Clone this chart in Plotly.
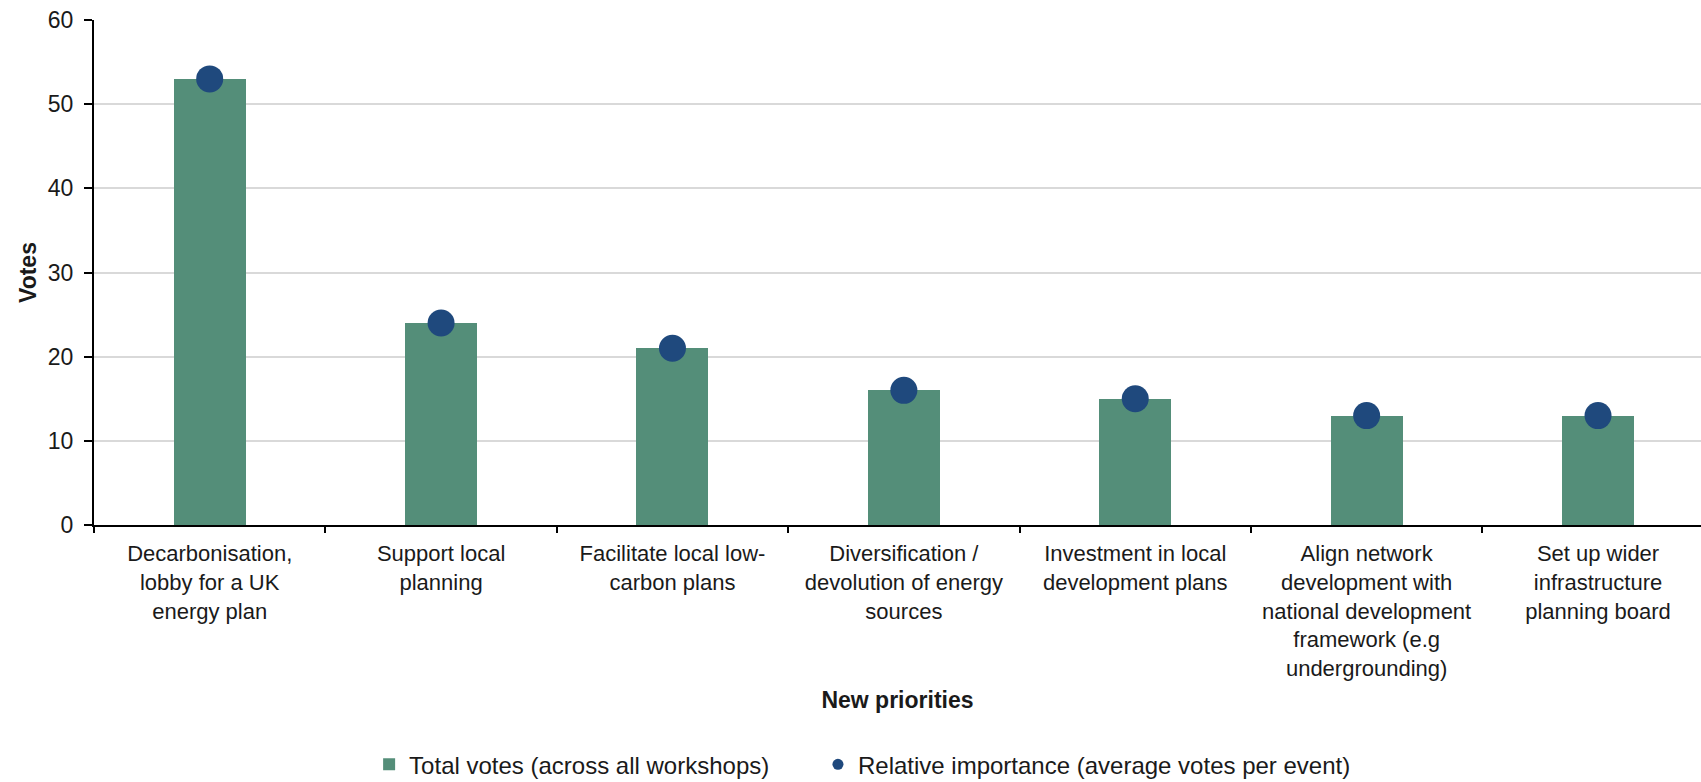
import plotly.graph_objects as go

categories = [
    "Decarbonisation,<br>lobby for a UK<br>energy plan",
    "Support local<br>planning",
    "Facilitate local low-<br>carbon plans",
    "Diversification /<br>devolution of energy<br>sources",
    "Investment in local<br>development plans",
    "Align network<br>development with<br>national development<br>framework (e.g<br>undergrounding)",
    "Set up wider<br>infrastructure<br>planning board",
]
total_votes = [53, 24, 21, 16, 15, 13, 13]
relative_importance = [53, 24, 21, 16, 15, 13, 13]
y_ticks = [0, 10, 20, 30, 40, 50, 60]

BAR = "#548e79"
DOT = "#1f497d"
FONT = "Liberation Sans, Arial, sans-serif"
TXT = "#1a1a1a"

fig = go.Figure()
fig.add_trace(go.Bar(
    x=categories, y=total_votes, name="Total votes (across all workshops)",
    marker=dict(color=BAR, line=dict(width=0)), width=0.311, legend="legend",
))
fig.add_trace(go.Scatter(
    x=categories, y=relative_importance, mode="markers", showlegend=False,
    marker=dict(color=DOT, size=27, line=dict(width=0)),
    name="Relative importance (average votes per event)",
))
fig.add_trace(go.Scatter(
    x=[None], y=[None], mode="markers",
    name="Relative importance (average votes per event)",
    marker=dict(color=DOT, size=11), legend="legend2",
))

legend_common = dict(
    orientation="h", xanchor="left", yanchor="middle", y=-0.4748,
    font=dict(size=24, color=TXT), itemclick=False, itemdoubleclick=False,
    bgcolor="rgba(0,0,0,0)",
)

fig.update_layout(
    width=1701, height=782,
    margin=dict(l=94, r=0, t=19.5, b=257, autoexpand=False),
    paper_bgcolor="white", plot_bgcolor="white",
    font=dict(family=FONT, size=23, color=TXT),
    bargap=0.0,
    showlegend=True,
    legend=dict(x=0.1712, **legend_common),
    legend2=dict(x=0.4505, **legend_common),
    xaxis=dict(
        type="category", range=[-0.5, 6.445], automargin=False,
        showline=True, linecolor="black", linewidth=2,
        ticks="outside", tickson="boundaries", ticklen=6, tickcolor="black", tickwidth=2,
        tickangle=0, ticklabelstandoff=8,
        showgrid=False, zeroline=False,
        title=dict(text="<b>New priorities</b>", standoff=12, font=dict(size=23)),
        tickfont=dict(size=22),
    ),
    yaxis=dict(
        range=[0, 60], tickvals=y_ticks, automargin=False,
        showline=True, linecolor="black", linewidth=2,
        ticks="outside", ticklen=8, tickcolor="black", tickwidth=2,
        showgrid=True, gridcolor="#d9d9d9", gridwidth=1.5,
        zeroline=False,
        ticklabelstandoff=6,
        title=dict(text="<b>Votes</b>", standoff=5, font=dict(size=23)),
        tickfont=dict(size=23),
    ),
)

fig.write_html("out.html")
